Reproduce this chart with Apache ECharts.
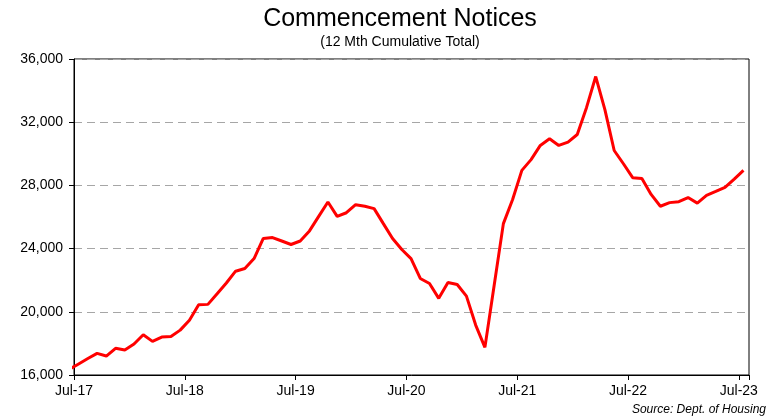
<!DOCTYPE html>
<html>
<head>
<meta charset="utf-8">
<title>Commencement Notices</title>
<script src="https://cdn.jsdelivr.net/npm/echarts@6/dist/echarts.min.js"></script>
<style>
  html, body { margin: 0; padding: 0; background: #fff; }
  #chart { width: 772px; height: 419px; }
</style>
</head>
<body>
<div id="chart"></div>
<script>
// monthly points, Jun-17 .. Jul-23 (Jun-17 sits just left of the axis and gets clipped)
const months = [
  'Jun-17', 'Jul-17', 'Aug-17', 'Sep-17', 'Oct-17', 'Nov-17', 'Dec-17',
  'Jan-18', 'Feb-18', 'Mar-18', 'Apr-18', 'May-18', 'Jun-18', 'Jul-18', 'Aug-18', 'Sep-18', 'Oct-18', 'Nov-18', 'Dec-18',
  'Jan-19', 'Feb-19', 'Mar-19', 'Apr-19', 'May-19', 'Jun-19', 'Jul-19', 'Aug-19', 'Sep-19', 'Oct-19', 'Nov-19', 'Dec-19',
  'Jan-20', 'Feb-20', 'Mar-20', 'Apr-20', 'May-20', 'Jun-20', 'Jul-20', 'Aug-20', 'Sep-20', 'Oct-20', 'Nov-20', 'Dec-20',
  'Jan-21', 'Feb-21', 'Mar-21', 'Apr-21', 'May-21', 'Jun-21', 'Jul-21', 'Aug-21', 'Sep-21', 'Oct-21', 'Nov-21', 'Dec-21',
  'Jan-22', 'Feb-22', 'Mar-22', 'Apr-22', 'May-22', 'Jun-22', 'Jul-22', 'Aug-22', 'Sep-22', 'Oct-22', 'Nov-22', 'Dec-22',
  'Jan-23', 'Feb-23', 'Mar-23', 'Apr-23', 'May-23', 'Jun-23', 'Jul-23'
]

const notices = [
  16360, 16700, 17040, 17370, 17200, 17690, 17580,
  17960, 18550, 18130, 18400, 18440, 18840, 19470, 20440, 20470, 21140, 21820, 22570,
  22740, 23370, 24640, 24700, 24480, 24260, 24480, 25120, 26040, 26950, 26040, 26270,
  26780, 26680, 26530, 25580, 24640, 23940, 23370, 22110, 21790, 20850, 21860, 21730,
  20990, 19160, 17750, 21670, 25580, 27110, 28950, 29630, 30530, 30950, 30530, 30740,
  31220, 32920, 34890, 32780, 30210, 29370, 28490, 28430, 27430, 26680, 26910, 26970,
  27230, 26880, 27370, 27620, 27880, 28400, 28950
]

const xTickLabels = ['Jul-17', 'Jul-18', 'Jul-19', 'Jul-20', 'Jul-21', 'Jul-22', 'Jul-23']

const chart = echarts.init(document.getElementById('chart'))

// x is months since Jul-17; each point sits mid-month
const seriesData = notices.map((v, i) => [i - 0.5, v])

const option = {
  animation: false,
  textStyle: { fontFamily: 'Liberation Sans, Arial, sans-serif' },
  title: [
    {
      text: 'Commencement Notices',
      left: 400,
      top: 7,
      padding: 0,
      textAlign: 'center',
      textStyle: { fontSize: 25, fontWeight: 'normal', color: '#000' }
    },
    {
      text: '(12 Mth Cumulative Total)',
      left: 400,
      top: 35,
      padding: 0,
      textAlign: 'center',
      textStyle: { fontSize: 14, fontWeight: 'normal', color: '#000' }
    }
  ],
  grid: {
    left: 74,
    right: 23,
    top: 59,
    bottom: 44,
    show: true,
    borderColor: '#000',
    borderWidth: 1
  },
  xAxis: {
    type: 'value',
    min: 0,
    max: 73.1,
    interval: 12,
    axisLine: { lineStyle: { color: '#000', width: 1 } },
    axisTick: { show: true, length: 5, lineStyle: { color: '#000' } },
    splitLine: { show: false },
    axisLabel: {
      color: '#000',
      fontSize: 14,
      margin: 9,
      formatter: (v) => (v % 12 === 0 ? xTickLabels[v / 12] : '')
    }
  },
  yAxis: {
    type: 'value',
    min: 16000,
    max: 36000,
    interval: 4000,
    axisLine: { show: true, lineStyle: { color: '#000', width: 1 } },
    axisTick: { show: true, length: 5, lineStyle: { color: '#000' } },
    splitLine: { show: true, lineStyle: { color: '#a6a6a6', type: [8, 5], width: 1 } },
    axisLabel: {
      color: '#000',
      fontSize: 14,
      margin: 11,
      formatter: (v) => v.toLocaleString('en-US')
    }
  },
  graphic: [
    {
      type: 'text',
      right: 6,
      top: 404,
      style: {
        text: 'Source: Dept. of Housing',
        fill: '#000',
        font: 'italic 12px "Liberation Sans", Arial, sans-serif'
      }
    }
  ],
  series: [
    {
      name: 'Commencement Notices',
      type: 'line',
      data: seriesData,
      showSymbol: false,
      clip: true,
      lineStyle: { color: '#ff0000', width: 3 },
      itemStyle: { color: '#ff0000' }
    }
  ]
}

chart.setOption(option)
</script>
</body>
</html>
